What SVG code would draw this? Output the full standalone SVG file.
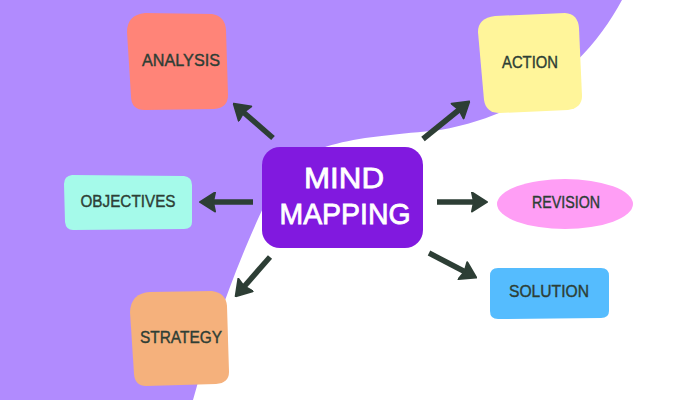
<svg xmlns="http://www.w3.org/2000/svg" width="700" height="400" viewBox="0 0 700 400">
<defs>
<style>
.lbl{font-family:"Liberation Sans","DejaVu Sans",sans-serif;font-size:17px;fill:#2D3E35;stroke:#2D3E35;stroke-width:0.4;text-anchor:middle}
.ctr{font-family:"Liberation Sans","DejaVu Sans",sans-serif;font-size:30px;fill:#FFFFFF;stroke:#FFFFFF;stroke-width:0.8;text-anchor:middle}
.arr{stroke:#2D3E35;stroke-width:5.5;fill:none;marker-end:url(#head)}
</style>
<marker id="head" viewBox="0 0 17 21" refX="5" refY="10.5" markerWidth="17" markerHeight="21" markerUnits="userSpaceOnUse" orient="auto">
<path d="M1,1 L16,10.5 L1,20 L3,10.5 Z" fill="#2D3E35" stroke="#2D3E35" stroke-width="2" stroke-linejoin="round"/>
</marker>
</defs>
<rect width="700" height="400" fill="#FFFFFF"/>
<path d="M0,0 L622,0 C590,60 530,115 440,130 C360,138 300,140 275,185 C250,230 215,320 193,400 L0,400 Z" fill="#B18BFE"/>
<g id="connectors">
<line class="arr" x1="273" y1="138" x2="242" y2="111"/>
<line class="arr" x1="423" y1="139" x2="460.7" y2="108.5"/>
<line class="arr" x1="253" y1="202" x2="211" y2="202"/>
<line class="arr" x1="437" y1="202" x2="476" y2="202"/>
<line class="arr" x1="429" y1="253" x2="466.4" y2="272.5"/>
<line class="arr" x1="270" y1="257" x2="242.9" y2="288"/>
</g>
<g id="center">
<rect x="262" y="147" width="161" height="101" rx="18" fill="#8119DF"/>
<text class="ctr" x="344" y="188" textLength="80" lengthAdjust="spacingAndGlyphs">MIND</text>
<text class="ctr" x="345" y="224" textLength="131" lengthAdjust="spacingAndGlyphs">MAPPING</text>
</g>
<g id="analysis">
<path d="M145,13 L212,14 Q225,16 226,30 L228,95 Q228,108 214,109 L145,110 Q131,110 131,96 L127,32 Q127,15 145,13 Z" fill="#FF8478"/>
<text class="lbl" x="181" y="66" textLength="78" lengthAdjust="spacingAndGlyphs">ANALYSIS</text>
</g>
<g id="action">
<path d="M495,16 L565,13 Q578,14 579,28 L582,96 Q582,108 568,110 L500,113 Q486,113 484,100 L478,32 Q478,18 495,16 Z" fill="#FFF59A"/>
<text class="lbl" x="530" y="68" textLength="56" lengthAdjust="spacingAndGlyphs">ACTION</text>
</g>
<g id="objectives">
<path d="M72,175 L184,176 Q192,177 192,185 L192,222 Q192,229 184,229 L73,230 Q66,230 65,222 L64,184 Q64,176 72,175 Z" fill="#A5FAEA"/>
<text class="lbl" x="128" y="207" textLength="95" lengthAdjust="spacingAndGlyphs">OBJECTIVES</text>
</g>
<g id="revision">
<ellipse cx="565" cy="204" rx="68" ry="25" fill="#FF9EF5"/>
<text class="lbl" x="566" y="208" textLength="68" lengthAdjust="spacingAndGlyphs">REVISION</text>
</g>
<g id="solution">
<path d="M498,268 L601,268 Q609,268 609,276 L609,311 Q609,318 601,318 L498,319 Q490,319 490,311 L490,276 Q490,268 498,268 Z" fill="#55BCFE"/>
<text class="lbl" x="549" y="297" textLength="80" lengthAdjust="spacingAndGlyphs">SOLUTION</text>
</g>
<g id="strategy">
<path d="M150,292 L212,291 Q226,293 227,306 L229,372 Q229,383 216,384 L146,386 Q135,386 134,374 L130,312 Q131,293 150,292 Z" fill="#F5B17C"/>
<text class="lbl" x="181" y="343" textLength="82" lengthAdjust="spacingAndGlyphs">STRATEGY</text>
</g>
</svg>
